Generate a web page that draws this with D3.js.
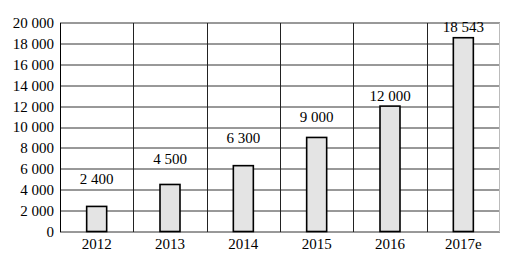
<!DOCTYPE html>
<html>
<head>
<meta charset="utf-8">
<script src="https://cdn.jsdelivr.net/npm/d3@7"></script>
<style>
  body { margin: 0; background: #fff; }
</style>
</head>
<body>
<div id="chart"></div>
<script>
// data
var years = ["2012", "2013", "2014", "2015", "2016", "2017e"];
var revenue = [2400, 4500, 6300, 9000, 12000, 18543];
var valueLabels = ["2 400", "4 500", "6 300", "9 000", "12 000", "18 543"];
// level (in axis units) where each value label sits in the original
var labelLevels = [4500, 6500, 8500, 10500, 12500, 19050];
var yTicks = [0, 2000, 4000, 6000, 8000, 10000, 12000, 14000, 16000, 18000, 20000];

var FONT = "Liberation Serif";

var width = 529, height = 259;
var margin = { top: 22.5, right: 29, bottom: 27.5, left: 60 };
var w = width - margin.left - margin.right,
    h = height - margin.top - margin.bottom;

var fmt = function (d) {
  return d3.format(",")(d).replace(/,/g, " ");
};

var x = d3.scaleBand().domain(years).range([0, w]).paddingInner(0).paddingOuter(0);
var y = d3.scaleLinear().domain([0, 20000]).range([h, 0]);

var svg = d3.select("#chart").append("svg")
  .attr("width", width)
  .attr("height", height)
  .append("g")
  .attr("transform", "translate(" + margin.left + "," + margin.top + ")");

// horizontal grid
svg.append("g")
  .selectAll("line")
  .data(yTicks)
  .enter().append("line")
  .attr("x1", 0).attr("x2", w)
  .attr("y1", function (d) { return Math.round(y(d)) + 0.5; })
  .attr("y2", function (d) { return Math.round(y(d)) + 0.5; })
  .attr("stroke", "#333")
  .attr("stroke-width", 1);

// vertical separators
svg.append("g")
  .selectAll("line")
  .data(years.slice(1))
  .enter().append("line")
  .attr("x1", function (d) { return Math.round(x(d)) + 0.5; })
  .attr("x2", function (d) { return Math.round(x(d)) + 0.5; })
  .attr("y1", Math.round(y(20000)) + 0.5).attr("y2", Math.round(y(0)) + 0.5)
  .attr("stroke", "#222");

// right border (light)
svg.append("line")
  .attr("x1", w - 0.5).attr("x2", w - 0.5)
  .attr("y1", Math.round(y(20000)) + 0.5).attr("y2", Math.round(y(0)) + 0.5)
  .attr("stroke", "#bbb");

// left axis line
svg.append("line")
  .attr("x1", 0.5).attr("x2", 0.5)
  .attr("y1", Math.round(y(20000)) + 0.5).attr("y2", Math.round(y(0)) + 0.5)
  .attr("stroke", "#000");

// y tick labels
var yAxis = d3.axisLeft(y).tickValues(yTicks).tickFormat(fmt).tickSize(0).tickPadding(6);
var ya = svg.append("g").call(yAxis);
ya.attr("font-family", FONT).attr("font-size", 15);
ya.select(".domain").remove();
ya.selectAll("text").attr("dy", "0.33em").attr("fill", "#000");

// x tick labels
var xAxis = d3.axisBottom(x).tickSize(0).tickPadding(7);
var xa = svg.append("g").attr("transform", "translate(0," + h + ")").call(xAxis);
xa.attr("font-family", FONT).attr("font-size", 15);
xa.select(".domain").remove();
xa.selectAll("text").attr("fill", "#000");

var barW = 20;

// bars
svg.selectAll(".bar")
  .data(revenue)
  .enter().append("rect")
  .attr("class", "bar")
  .attr("x", function (d, i) { return x(years[i]) + x.bandwidth() / 2 - barW / 2; })
  .attr("y", function (d) { return y(d); })
  .attr("width", barW)
  .attr("height", function (d) { return h - y(d); })
  .attr("fill", "#e4e4e4")
  .attr("stroke", "#000")
  .attr("stroke-width", 1.6);

// value labels
svg.selectAll(".val")
  .data(valueLabels)
  .enter().append("text")
  .attr("class", "val")
  .attr("x", function (d, i) { return x(years[i]) + x.bandwidth() / 2; })
  .attr("y", function (d, i) { return y(labelLevels[i]); })
  .attr("text-anchor", "middle")
  .attr("font-family", FONT)
  .attr("font-size", 15)
  .text(function (d) { return d; });
</script>
</body>
</html>
